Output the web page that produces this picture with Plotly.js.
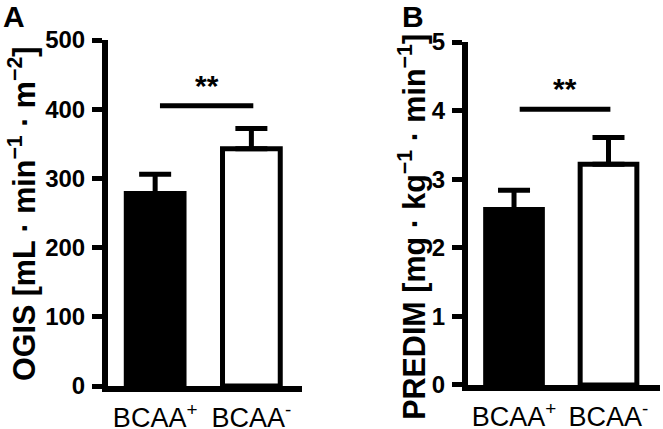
<!DOCTYPE html>
<html>
<head>
<meta charset="utf-8">
<script src="https://cdn.plot.ly/plotly-3.0.1.min.js"></script>
<style>
  body { margin: 0; background: #fff; }
  #plot { width: 663px; height: 429px; }
</style>
</head>
<body>
<div id="plot"></div>
<script>
// groups on the x axis
var groups = ["BCAA<sup>+</sup>", "BCAA<sup>-</sup>"];

// panel A: OGIS, mean and upper error
var ogisMean = [278, 343];
var ogisErr = [28, 29];

// panel B: PREDIM, mean and upper error
var predimMean = [2.56, 3.22];
var predimErr = [0.28, 0.39];

// significance bars (from, to, height)
var sigA = [0.05, 1.02, 405];
var sigB = [0.06, 1.02, 4.02];

var barColors = ["#000000", "#ffffff"];

var FONT = "Liberation Sans, Arial, sans-serif";

var trace1 = {
    x: groups,
    y: ogisMean,
    type: "bar",
    width: 0.6,
    xaxis: "x",
    yaxis: "y",
    marker: { color: barColors, line: { color: "#000", width: 5 } },
    error_y: {
        type: "data",
        symmetric: false,
        array: ogisErr,
        arrayminus: [0, 0],
        color: "#000",
        thickness: 5,
        width: 16
    },
    hoverinfo: "skip"
};

var trace2 = {
    x: groups,
    y: predimMean,
    type: "bar",
    width: 0.6,
    xaxis: "x2",
    yaxis: "y2",
    marker: { color: barColors, line: { color: "#000", width: 5 } },
    error_y: {
        type: "data",
        symmetric: false,
        array: predimErr,
        arrayminus: [0, 0],
        color: "#000",
        thickness: 5,
        width: 16
    },
    hoverinfo: "skip"
};

var yax = {
    showgrid: false,
    zeroline: false,
    showline: true,
    linecolor: "#000",
    linewidth: 6,
    ticks: "outside",
    ticklen: 10,
    tickwidth: 5,
    tickcolor: "#000",
    ticklabelstandoff: 2,
    tickfont: { family: FONT, size: 24, color: "#000", weight: "bold" },
    fixedrange: true
};

var xax = {
    showgrid: false,
    zeroline: false,
    showline: true,
    linecolor: "#000",
    linewidth: 6,
    ticks: "",
    ticklabelstandoff: 3,
    tickfont: { family: FONT, size: 27, color: "#000" },
    fixedrange: true
};

var titleFont = { family: FONT, size: 30.5, color: "#000", weight: "bold" };
var panelFont = { family: FONT, size: 30, color: "#000", weight: "bold" };

var layout = {
    width: 663,
    height: 429,
    margin: { l: 0, r: 0, t: 40, b: 43 },
    paper_bgcolor: "#fff",
    plot_bgcolor: "#fff",
    showlegend: false,
    bargap: 0,
    xaxis: Object.assign({}, xax, {
        domain: [108 / 663, 302 / 663],
        range: [-0.49, 1.526]
    }),
    xaxis2: Object.assign({}, xax, {
        domain: [468 / 663, 660 / 663],
        range: [-0.487, 1.545],
        anchor: "y2"
    }),
    yaxis: Object.assign({}, yax, {
        range: [0, 500],
        tickvals: [0, 100, 200, 300, 400, 500]
    }),
    yaxis2: Object.assign({}, yax, {
        range: [0, 5],
        tickvals: [0, 1, 2, 3, 4, 5],
        domain: [0.003, 0.994],
        anchor: "x2"
    }),
    shapes: [
        { type: "line", xref: "x", yref: "y", x0: sigA[0], x1: sigA[1], y0: sigA[2], y1: sigA[2],
          line: { color: "#000", width: 5 } },
        { type: "line", xref: "x2", yref: "y2", x0: sigB[0], x1: sigB[1], y0: sigB[2], y1: sigB[2],
          line: { color: "#000", width: 5 } }
    ],
    annotations: [
        // y axis titles
        { text: "OGIS [mL · min<sup>−1</sup> · m<sup>−2</sup>]", textangle: -90,
          xref: "paper", yref: "paper", x: 22 / 663, y: 0.497,
          xanchor: "center", yanchor: "middle", showarrow: false, font: titleFont },
        { text: "PREDIM [mg · kg<sup>−1</sup> · min<sup>−1</sup>]", textangle: -90,
          xref: "paper", yref: "paper", x: 413 / 663, y: 0.46,
          xanchor: "center", yanchor: "middle", showarrow: false, font: titleFont },
        // significance stars
        { text: "**", xref: "x", yref: "y", x: (sigA[0] + sigA[1]) / 2, y: sigA[2] + 3,
          yanchor: "bottom", showarrow: false,
          font: { family: FONT, size: 30, color: "#000", weight: "bold" } },
        { text: "**", xref: "x2", yref: "y2", x: (sigB[0] + sigB[1]) / 2, y: sigB[2] + 0.04,
          yanchor: "bottom", showarrow: false,
          font: { family: FONT, size: 30, color: "#000", weight: "bold" } },
        // panel letters
        { text: "A", xref: "paper", yref: "paper", x: 14 / 663, y: 1.068,
          xanchor: "center", yanchor: "middle", showarrow: false, font: panelFont },
        { text: "B", xref: "paper", yref: "paper", x: 413 / 663, y: 1.068,
          xanchor: "center", yanchor: "middle", showarrow: false, font: panelFont }
    ]
};

var plotdata = [trace1, trace2];

Plotly.newPlot("plot", plotdata, layout, { displayModeBar: false, staticPlot: true });
</script>
</body>
</html>
